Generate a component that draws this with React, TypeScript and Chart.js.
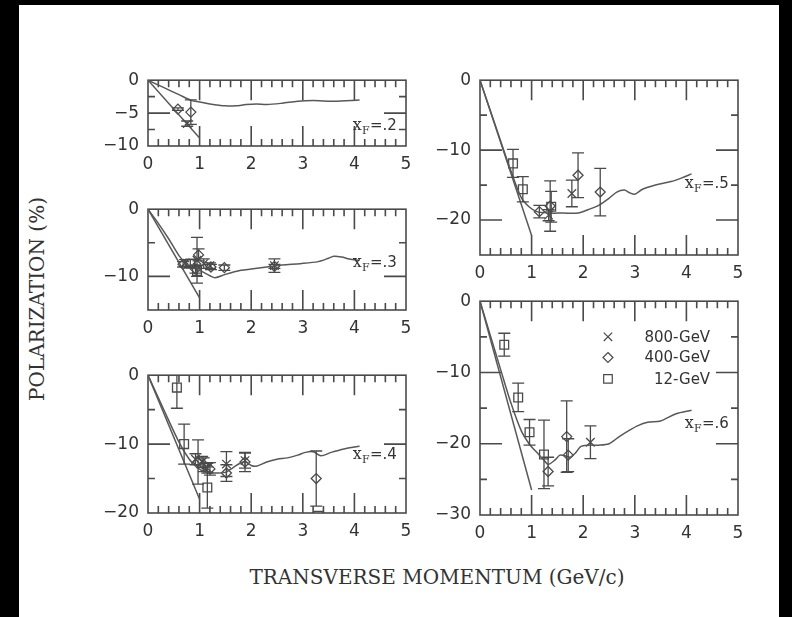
import React, { useEffect, useRef } from 'react';
import { Chart, registerables } from 'chart.js';

Chart.register(...registerables);

// ---------------- data ----------------
const X_TICKS = [0, 1, 2, 3, 4, 5];
const LEGEND_LABELS = ['800-GeV', '400-GeV', '12-GeV'];
const LEGEND_ROWS_Y = [-5.0, -7.9, -10.9];
const LEGEND_MARK_X = 2.48;
const LEGEND_TEXT_X = 4.46;
const ANN_X = 3.97;
const X_TITLE = 'TRANSVERSE MOMENTUM (GeV/c)';
const Y_TITLE = 'POLARIZATION (%)';

// xF = .2
const P1_LABEL = '.2';
const P1_ANN_Y = -6.9;
const P1_Y_RANGE = [-10, 0];
const P1_Y_TICKS = [0, -5, -10];
const P1_Y_MINOR = [-2.5, -7.5];
const P1_STEEP = [[0, 0], [1.0, -8.8]];
const P1_CURVE = [[0, 0], [0.3, -1.1], [0.6, -2.2], [0.85, -3.1], [1.0, -3.3], [1.2, -3.6], [1.5, -3.9], [1.7, -3.9], [1.9, -3.7], [2.1, -3.6], [2.3, -3.7], [2.6, -3.5], [2.9, -3.2], [3.2, -3.1], [3.6, -3.2], [4.1, -3.0]];
const P1_CROSS = [[0.76, -6.6, 0.4]];
const P1_DIAMOND = [[0.58, -4.4, 0.2], [0.83, -4.85, 1.85]];
const P1_SQUARE: number[][] = [];

// xF = .3
const P2_LABEL = '.3';
const P2_ANN_Y = -8.0;
const P2_Y_RANGE = [-15, 0];
const P2_Y_TICKS = [0, -10];
const P2_Y_MINOR = [-5];
const P2_STEEP = [[0, 0], [1.0, -13.2]];
const P2_CURVE = [[0, 0], [0.2, -2.1], [0.4, -4.4], [0.6, -6.9], [0.75, -8.2], [0.9, -8.8], [1.05, -9.3], [1.2, -9.9], [1.3, -10.2], [1.5, -9.7], [1.8, -9.1], [2.0, -8.9], [2.3, -8.6], [2.6, -8.3], [2.95, -8.1], [3.3, -7.8], [3.5, -7.3], [3.6, -7.0], [3.75, -7.1], [3.9, -7.4], [4.1, -7.6]];
const P2_CROSS = [[0.72, -8.0, 0.5], [0.95, -7.6, 3.4], [1.08, -8.1, 0.7], [1.2, -8.4, 0.4], [2.45, -8.4, 1.0]];
const P2_DIAMOND = [[0.68, -8.2, 0.4], [0.92, -8.9, 0.6], [0.98, -6.8, 0.9], [1.22, -8.6, 0.4], [1.48, -8.7, 0.4], [2.45, -8.5, 0.3]];
const P2_SQUARE = [[0.82, -8.1, 0.6], [0.95, -9.2, 0.8]];

// xF = .4
const P3_LABEL = '.4';
const P3_ANN_Y = -11.6;
const P3_Y_RANGE = [-20, 0];
const P3_Y_TICKS = [0, -10, -20];
const P3_Y_MINOR = [-5, -15];
const P3_STEEP = [[0, 0], [1.0, -18.0]];
const P3_CURVE = [[0, 0], [0.3, -4.9], [0.6, -9.7], [0.8, -12.2], [0.95, -13.4], [1.1, -14.0], [1.3, -14.2], [1.5, -14.1], [1.65, -13.4], [1.8, -12.7], [1.9, -12.6], [2.0, -13.1], [2.1, -13.2], [2.3, -12.6], [2.5, -12.2], [2.7, -12.0], [2.9, -11.6], [3.05, -11.2], [3.2, -11.1], [3.35, -11.7], [3.55, -11.2], [3.8, -10.7], [4.1, -10.3]];
const P3_CROSS = [[0.92, -12.2, 0.8], [1.05, -12.6, 0.8], [1.15, -13.5, 0.7], [1.52, -12.9, 1.8], [1.88, -12.4, 1.1]];
const P3_DIAMOND = [[0.97, -12.6, 3.2], [1.08, -13.0, 1.0], [1.2, -13.6, 0.9], [1.52, -14.2, 1.2], [1.88, -12.6, 1.4], [3.26, -15.0, 4.0]];
const P3_SQUARE = [[0.56, -1.8, 3.0], [0.7, -10.0, 2.9], [1.15, -16.3, 3.0], [3.3, -20.4, 0]];

// xF = .5
const P4_LABEL = '.5';
const P4_ANN_Y = -14.9;
const P4_Y_RANGE = [-25, 0];
const P4_Y_TICKS = [0, -10, -20];
const P4_Y_MINOR = [-5, -15];
const P4_STEEP = [[0, 0], [1.0, -22.2]];
const P4_CURVE = [[0, 0], [0.3, -6.5], [0.6, -13.0], [0.8, -16.8], [0.95, -18.1], [1.1, -18.8], [1.35, -19.0], [1.6, -19.0], [1.9, -19.0], [2.1, -18.5], [2.3, -17.9], [2.5, -16.9], [2.65, -16.0], [2.8, -15.7], [2.9, -16.1], [3.0, -16.3], [3.15, -15.6], [3.4, -15.0], [3.7, -14.5], [3.9, -14.0], [4.1, -13.4]];
const P4_CROSS = [[1.33, -19.3, 0.8], [1.78, -16.2, 1.9]];
const P4_DIAMOND = [[1.15, -18.8, 0.9], [1.36, -18.0, 3.6], [1.9, -13.6, 3.2], [2.33, -16.0, 3.4]];
const P4_SQUARE = [[0.64, -11.9, 2.0], [0.83, -15.6, 1.8], [1.38, -18.1, 2.2]];

// xF = .6
const P5_LABEL = '.6';
const P5_ANN_Y = -17.2;
const P5_Y_RANGE = [-30, 0];
const P5_Y_TICKS = [0, -10, -20, -30];
const P5_Y_MINOR = [-5, -15, -25];
const P5_STEEP = [[0, 0], [1.0, -26.5]];
const P5_CURVE = [[0, 0], [0.2, -4.8], [0.4, -9.6], [0.6, -14.3], [0.8, -18.2], [0.95, -20.0], [1.1, -21.2], [1.25, -22.4], [1.32, -22.9], [1.45, -22.3], [1.55, -21.6], [1.65, -21.7], [1.75, -21.9], [1.85, -21.3], [1.95, -20.4], [2.1, -20.2], [2.3, -20.2], [2.5, -20.0], [2.7, -19.0], [2.9, -18.1], [3.05, -17.5], [3.25, -17.0], [3.5, -16.8], [3.8, -15.8], [4.1, -15.3]];
const P5_CROSS = [[2.14, -19.8, 2.3]];
const P5_DIAMOND = [[1.32, -23.9, 2.0], [1.68, -19.0, 5.0], [1.71, -21.6, 2.3]];
const P5_SQUARE = [[0.47, -6.1, 1.6], [0.74, -13.5, 2.0], [0.96, -18.4, 1.8], [1.24, -21.5, 4.8]];

// ---------------- styling / layout ----------------
const LINE_COLOR = '#585858';
const FRAME_COLOR = '#4a4a4a';
const MARK_COLOR = '#4a4a4a';
const TEXT_COLOR = '#333333';
const TICK_FONT = { family: '"DejaVu Sans", sans-serif', size: 17 };
const Y_AXIS_W = 60;
const X_AXIS_H = 36;
const PAD_T = 12;
const PAD_R = 14;
const MAJOR = 20;
const MINOR = 7;

const PANELS = [
  { left: 148, top: 73, w: 258, h: 73, label: P1_LABEL, annY: P1_ANN_Y, yr: P1_Y_RANGE, yt: P1_Y_TICKS, ym: P1_Y_MINOR, steep: P1_STEEP, curve: P1_CURVE, cross: P1_CROSS, diamond: P1_DIAMOND, square: P1_SQUARE, legend: false },
  { left: 148, top: 202, w: 258, h: 108, label: P2_LABEL, annY: P2_ANN_Y, yr: P2_Y_RANGE, yt: P2_Y_TICKS, ym: P2_Y_MINOR, steep: P2_STEEP, curve: P2_CURVE, cross: P2_CROSS, diamond: P2_DIAMOND, square: P2_SQUARE, legend: false },
  { left: 148, top: 368, w: 258, h: 145, label: P3_LABEL, annY: P3_ANN_Y, yr: P3_Y_RANGE, yt: P3_Y_TICKS, ym: P3_Y_MINOR, steep: P3_STEEP, curve: P3_CURVE, cross: P3_CROSS, diamond: P3_DIAMOND, square: P3_SQUARE, legend: false },
  { left: 480, top: 73, w: 258, h: 182, label: P4_LABEL, annY: P4_ANN_Y, yr: P4_Y_RANGE, yt: P4_Y_TICKS, ym: P4_Y_MINOR, steep: P4_STEEP, curve: P4_CURVE, cross: P4_CROSS, diamond: P4_DIAMOND, square: P4_SQUARE, legend: false },
  { left: 480, top: 294, w: 258, h: 221, label: P5_LABEL, annY: P5_ANN_Y, yr: P5_Y_RANGE, yt: P5_Y_TICKS, ym: P5_Y_MINOR, steep: P5_STEEP, curve: P5_CURVE, cross: P5_CROSS, diamond: P5_DIAMOND, square: P5_SQUARE, legend: true },
];

const fmt = (v: number) => (v < 0 ? '\u2212' + Math.abs(v) : String(v));

function drawMark(ctx: CanvasRenderingContext2D, kind: string, x: number, y: number) {
  ctx.beginPath();
  if (kind === 'cross') {
    const s = 4.2;
    ctx.moveTo(x - s, y - s); ctx.lineTo(x + s, y + s);
    ctx.moveTo(x + s, y - s); ctx.lineTo(x - s, y + s);
  } else if (kind === 'diamond') {
    const r = 5;
    ctx.moveTo(x, y - r); ctx.lineTo(x + r, y); ctx.lineTo(x, y + r); ctx.lineTo(x - r, y); ctx.closePath();
  } else {
    const s = 4.3;
    ctx.rect(x - s, y - s, 2 * s, 2 * s);
  }
  ctx.stroke();
}

function makeDecor(p: any) {
  const majorY = p.yt.filter((v: number) => v !== p.yr[0] && v !== p.yr[1]);
  return {
    id: 'decor',
    beforeDatasetsDraw(chart: any) {
      const { ctx, chartArea: a, scales } = chart;
      const xs = scales.x, ys = scales.y;
      ctx.save();
      ctx.strokeStyle = FRAME_COLOR;
      ctx.lineWidth = 1.6;
      ctx.strokeRect(a.left, a.top, a.right - a.left, a.bottom - a.top);
      ctx.beginPath();
      for (let i = 1; i < 25; i++) {
        const px = xs.getPixelForValue(i / 5);
        const len = i % 5 === 0 ? MAJOR : MINOR;
        ctx.moveTo(px, a.top); ctx.lineTo(px, a.top + len);
        ctx.moveTo(px, a.bottom); ctx.lineTo(px, a.bottom - len);
      }
      const yTick = (v: number, len: number) => {
        const py = ys.getPixelForValue(v);
        ctx.moveTo(a.left, py); ctx.lineTo(a.left + len, py);
        ctx.moveTo(a.right, py); ctx.lineTo(a.right - len, py);
      };
      majorY.forEach((v: number) => yTick(v, MAJOR + 2));
      p.ym.forEach((v: number) => yTick(v, MINOR));
      ctx.stroke();
      ctx.restore();
    },
    afterDatasetsDraw(chart: any) {
      const { ctx, chartArea: a, scales } = chart;
      const xs = scales.x, ys = scales.y;
      ctx.save();
      ctx.beginPath();
      ctx.rect(a.left, a.top, a.right - a.left, a.bottom - a.top);
      ctx.clip();
      ctx.strokeStyle = MARK_COLOR;
      ctx.lineWidth = 1.3;
      chart.data.datasets.forEach((ds: any) => {
        if (!ds.errs) return;
        ds.data.forEach((pt: any, j: number) => {
          const e = ds.errs[j];
          if (!e) return;
          const px = xs.getPixelForValue(pt.x);
          const y1 = ys.getPixelForValue(pt.y + e);
          const y2 = ys.getPixelForValue(pt.y - e);
          ctx.beginPath();
          ctx.moveTo(px, y1); ctx.lineTo(px, y2);
          ctx.moveTo(px - 6, y1); ctx.lineTo(px + 6, y1);
          ctx.moveTo(px - 6, y2); ctx.lineTo(px + 6, y2);
          ctx.stroke();
        });
      });
      ctx.restore();

      // annotation x_F = .N
      ctx.save();
      ctx.fillStyle = TEXT_COLOR;
      ctx.textAlign = 'left';
      ctx.textBaseline = 'alphabetic';
      const ax = xs.getPixelForValue(ANN_X);
      const ay = ys.getPixelForValue(p.annY) + 4;
      ctx.font = '16px "DejaVu Serif"';
      ctx.fillText('x', ax, ay);
      let w = ctx.measureText('x').width;
      ctx.font = '11px "DejaVu Serif"';
      ctx.fillText('F', ax + w, ay + 4);
      w += ctx.measureText('F').width;
      ctx.font = '15px "DejaVu Sans"';
      ctx.fillText('=' + p.label, ax + w + 0.5, ay);

      if (p.legend) {
        const kinds = ['cross', 'diamond', 'square'];
        ctx.strokeStyle = MARK_COLOR;
        ctx.lineWidth = 1.2;
        ctx.font = '15px "DejaVu Sans"';
        ctx.textAlign = 'right';
        ctx.textBaseline = 'middle';
        LEGEND_LABELS.forEach((lab, i) => {
          const py = ys.getPixelForValue(LEGEND_ROWS_Y[i]);
          drawMark(ctx, kinds[i], xs.getPixelForValue(LEGEND_MARK_X), py);
          ctx.fillText(lab, xs.getPixelForValue(LEGEND_TEXT_X), py + 1);
        });
      }
      ctx.restore();
    },
  };
}

function Panel({ p }: { p: any }) {
  const ref = useRef<HTMLCanvasElement>(null);
  const cw = Y_AXIS_W + p.w + PAD_R;
  const ch = PAD_T + p.h + X_AXIS_H;
  useEffect(() => {
    const toPts = (arr: number[][]) => arr.map((q) => ({ x: q[0], y: q[1] }));
    const markDs = (arr: number[][], style: string, r: number) => ({
      data: toPts(arr),
      errs: arr.map((q) => q[2]),
      pointStyle: style,
      pointRadius: r,
      pointHoverRadius: r,
      pointBorderColor: MARK_COLOR,
      pointBackgroundColor: 'rgba(255,255,255,0)',
      pointBorderWidth: 1.3,
      showLine: false,
      clip: 0,
    });
    const lineDs = (arr: number[][], tension: number) => ({
      data: toPts(arr),
      showLine: true,
      borderColor: LINE_COLOR,
      borderWidth: 1.5,
      pointRadius: 0,
      tension,
      fill: false,
      clip: 0,
    });
    const chart = new Chart(ref.current as HTMLCanvasElement, {
      type: 'scatter',
      data: {
        datasets: [
          lineDs(p.steep, 0),
          lineDs(p.curve, 0.3),
          markDs(p.cross, 'crossRot', 6),
          markDs(p.diamond, 'rectRot', 5),
          markDs(p.square, 'rect', 6.2),
        ] as any,
      },
      options: {
        animation: false,
        responsive: false,
        maintainAspectRatio: false,
        events: [],
        layout: { padding: { top: PAD_T, right: PAD_R, left: 0, bottom: 0 } },
        plugins: { legend: { display: false }, tooltip: { enabled: false } },
        scales: {
          x: {
            type: 'linear',
            min: 0,
            max: 5,
            afterBuildTicks: (s: any) => { s.ticks = X_TICKS.map((v) => ({ value: v })); },
            afterFit: (s: any) => { s.height = X_AXIS_H; },
            grid: { display: false, drawTicks: false },
            border: { display: false },
            ticks: { padding: 8, font: TICK_FONT, color: TEXT_COLOR, maxRotation: 0, autoSkip: false, callback: (v: any) => fmt(Number(v)) },
          },
          y: {
            type: 'linear',
            min: p.yr[0],
            max: p.yr[1],
            afterBuildTicks: (s: any) => { s.ticks = p.yt.map((v: number) => ({ value: v })); },
            afterFit: (s: any) => { s.width = Y_AXIS_W; },
            grid: { display: false, drawTicks: false },
            border: { display: false },
            ticks: { padding: 9, font: TICK_FONT, color: TEXT_COLOR, autoSkip: false, callback: (v: any) => fmt(Number(v)) },
          },
        },
      } as any,
      plugins: [makeDecor(p)],
    });
    return () => chart.destroy();
  }, []);
  return (
    <canvas
      ref={ref}
      width={cw}
      height={ch}
      style={{ position: 'absolute', left: p.left - Y_AXIS_W, top: p.top - PAD_T, width: cw, height: ch }}
    />
  );
}

export default function App() {
  return (
    <div style={{ position: 'fixed', left: 0, top: 0, width: 792, height: 617, background: '#000', overflow: 'hidden' }}>
      <div style={{ position: 'absolute', left: 19, top: 5, width: 760, height: 612, background: '#fff' }} />
      {PANELS.map((p, i) => (
        <Panel key={i} p={p} />
      ))}
      <div
        style={{
          position: 'absolute', left: 187, top: 565, width: 500, height: 24, lineHeight: '24px',
          textAlign: 'center', font: '20px "DejaVu Serif", serif', color: TEXT_COLOR, whiteSpace: 'nowrap',
        }}
      >
        {X_TITLE}
      </div>
      <div
        style={{
          position: 'absolute', left: 37 - 150, top: 299 - 12, width: 300, height: 24, lineHeight: '24px',
          textAlign: 'center', font: '20px "DejaVu Serif", serif', color: TEXT_COLOR, whiteSpace: 'nowrap',
          transform: 'rotate(-90deg)', transformOrigin: '50% 50%',
        }}
      >
        {Y_TITLE}
      </div>
    </div>
  );
}
